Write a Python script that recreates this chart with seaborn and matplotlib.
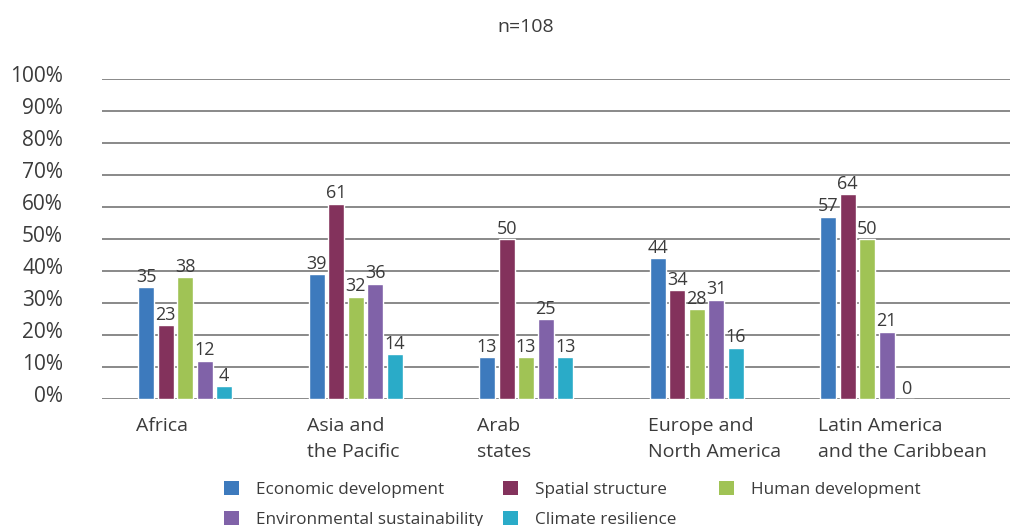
import matplotlib
matplotlib.use("Agg")
import matplotlib.pyplot as plt
from matplotlib.patches import Patch
from matplotlib.transforms import blended_transform_factory, ScaledTranslation
import seaborn as sns
import pandas as pd

regions = ["Africa", "Asia and\nthe Pacific", "Arab\nstates",
           "Europe and\nNorth America", "Latin America\nand the Caribbean"]
dimensions = ["Economic development", "Spatial structure", "Human development",
              "Environmental sustainability", "Climate resilience"]
economic = [35, 39, 13, 44, 57]
spatial = [23, 61, 50, 34, 64]
human = [38, 32, 13, 28, 50]
environmental = [12, 36, 25, 31, 21]
climate = [4, 14, 13, 16, 0]
yticks = [0, 10, 20, 30, 40, 50, 60, 70, 80, 90, 100]
title = "n=108"

colors = ["#3d7abd", "#83325c", "#a0c355", "#8062a8", "#2aabc8"]
text_color = "#3b3b3b"

series = [economic, spatial, human, environmental, climate]
df = pd.DataFrame({
    "region": [r for s in series for r in regions],
    "dimension": [d for d, s in zip(dimensions, series) for _ in s],
    "value": [v for s in series for v in s],
})

sns.set_theme(style="white")
plt.rcParams["font.family"] = ["Open Sans", "DejaVu Sans"]

W, H = 1011, 526
fig = plt.figure(figsize=(W / 100, H / 100), dpi=100)
ax = fig.add_axes([102 / W, 127 / H, 908 / W, 320 / H])

group_width = 0.572
sns.barplot(data=df, x="region", y="value", hue="dimension",
            order=regions, hue_order=dimensions, palette=colors,
            width=group_width, gap=0.18, saturation=1, legend=False, ax=ax)

ax.set_xlim(-0.487, 4.837)
ax.set_ylim(0, 100)
ax.set_yticks(yticks)
ax.set_yticklabels([f"{t}%" for t in yticks])
ax.yaxis.grid(True, color="#808080", linewidth=1.3)
ax.set_axisbelow(True)
for s in ax.spines.values():
    s.set_visible(False)
ax.tick_params(axis="y", length=0, pad=28, labelsize=15, labelcolor=text_color)
ax.tick_params(axis="x", length=0)
ax.set_xticks([])
ax.set_xlabel("")
ax.set_ylabel("")

# percentage labels sit slightly above their gridlines
lift = ScaledTranslation(0, 5 / 100, fig.dpi_scale_trans)
for lbl in ax.get_yticklabels():
    lbl.set_transform(lbl.get_transform() + lift)

for cont in ax.containers:
    ax.bar_label(cont, fmt="%d", padding=1, fontsize=13, color=text_color)

# region names, left-aligned with the first bar of each group
trans = blended_transform_factory(ax.transData, ax.transAxes)
for i, name in enumerate(regions):
    ax.text(i - group_width / 2, -0.056, name, transform=trans, ha="left",
            va="top", fontsize=14, color=text_color, linespacing=1.55)

fig.text(526 / W, 1 - 32 / H, title, ha="center", va="baseline",
         fontsize=14, color=text_color)

# legend: three columns placed at their own offsets
columns = [([0, 3], 224), ([1, 4], 503), ([2], 719)]
for idx, x0 in columns:
    handles = [Patch(facecolor=colors[k], edgecolor="none") for k in idx]
    labels = [dimensions[k] for k in idx]
    fig.legend(handles, labels, ncol=1, loc="upper left",
               bbox_to_anchor=(x0 / W, 1 - 481 / H), frameon=False,
               fontsize=12.3, labelcolor=text_color, handlelength=0.88,
               handleheight=0.88, handletextpad=1.0,
               labelspacing=0.75, borderaxespad=0, borderpad=0)

fig.savefig("out.png", dpi=100)
